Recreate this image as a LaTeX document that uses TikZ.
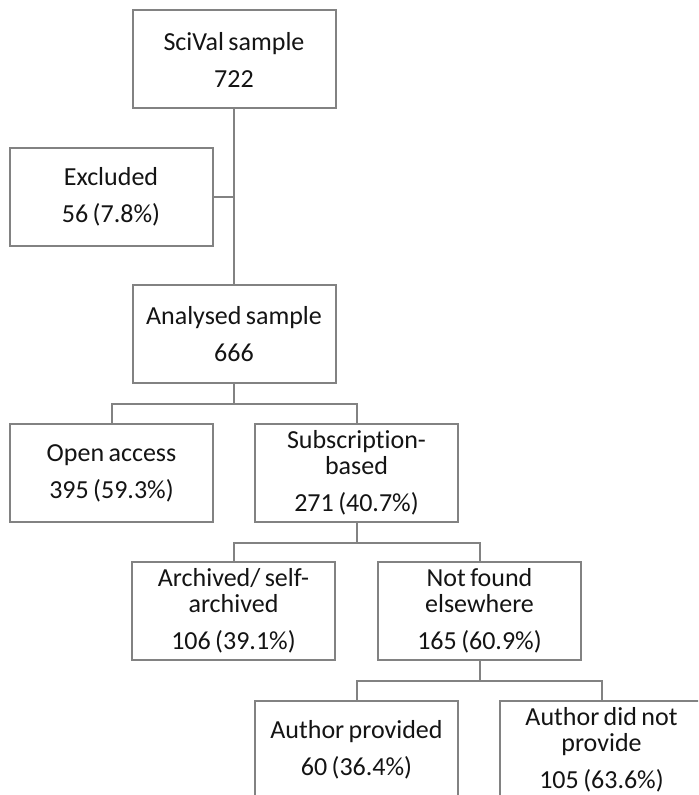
\documentclass[tikz,border=0pt]{standalone}
\usepackage{fontspec}
\setmainfont{Carlito}[Ligatures=NoCommon, WordSpace=0.75]
\usepackage{tikz}
\usepackage{xcolor}
\definecolor{linegray}{RGB}{130,130,130}
\definecolor{textblack}{RGB}{20,20,20}
\tikzset{
  flowbox/.style={draw=linegray, line width=1pt, fill=white, text=textblack,
    minimum width=101.5pt, minimum height=49pt, inner sep=0pt, align=center,
    font=\fontsize{13}{13}\selectfont},
  link/.style={draw=linegray, line width=1pt}
}
\newcommand{\numgap}{\\[5.5pt]}

\begin{document}
\begin{tikzpicture}[x=0.5pt, y=-0.5pt]
\useasboundingbox (0,0) rectangle (698,795);
\clip (0,0) rectangle (698,795);
% boxes
\node[flowbox] (sci) at (234,59.5) {SciVal sample\numgap 722};
\node[flowbox] (excl) at (111,197) {Excluded\numgap 56 (7.8\%)};
\node[flowbox] (anal) at (234,334.5) {Analysed sample\numgap 666};
\node[flowbox] (open) at (111.5,473) {Open access\numgap 395 (59.3\%)};
\node[flowbox] (subs) at (356.5,473) {Subscription-\\based\numgap 271 (40.7\%)};
\node[flowbox] (arch) at (233.5,611) {Archived/ self-\\archived\numgap 106 (39.1\%)};
\node[flowbox] (notf) at (479.5,611) {Not found\\elsewhere\numgap 165 (60.9\%)};
\node[flowbox] (auth) at (356.5,750) {Author provided\numgap 60 (36.4\%)};
\node[flowbox] (nota) at (601.5,750) {Author did not\\provide\numgap 105 (63.6\%)};
% junctions
\coordinate (j1) at (234,404);
\coordinate (j2) at (356.5,543);
\coordinate (j3) at (479.5,681);
% connectors
\draw[link] (sci.south) -- (anal.north);
\draw[link] (excl.east) -- (excl.east -| sci.south);
\draw[link] (anal.south) -- (j1);
\draw[link] (open.north) |- (j1) -| (subs.north);
\draw[link] (subs.south) -- (j2);
\draw[link] (arch.north) |- (j2) -| (notf.north);
\draw[link] (notf.south) -- (j3);
\draw[link] (auth.north) |- (j3) -| (nota.north);
\end{tikzpicture}
\end{document}
